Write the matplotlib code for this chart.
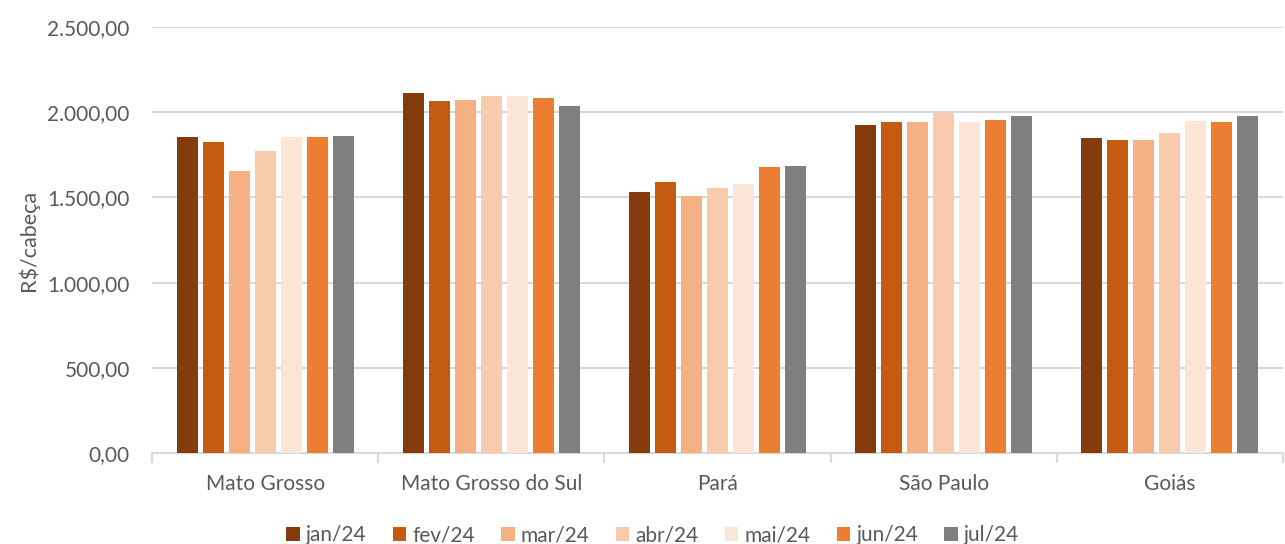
import matplotlib
matplotlib.use("Agg")
import matplotlib.pyplot as plt
import numpy as np
from matplotlib.ticker import FuncFormatter, FixedLocator

categories = ["Mato Grosso", "Mato Grosso do Sul", "Pará", "São Paulo", "Goiás"]
months = ["jan/24", "fev/24", "mar/24", "abr/24", "mai/24", "jun/24", "jul/24"]
jan24 = [1855, 2111, 1532, 1924, 1849]
fev24 = [1826, 2066, 1593, 1940, 1834]
mar24 = [1654, 2074, 1509, 1940, 1834]
abr24 = [1771, 2098, 1554, 1998, 1879]
mai24 = [1853, 2098, 1578, 1940, 1947]
jun24 = [1855, 2082, 1676, 1955, 1940]
jul24 = [1863, 2037, 1683, 1977, 1977]
series = [jan24, fev24, mar24, abr24, mai24, jun24, jul24]
colors = ["#843C0C", "#C55A11", "#F4B183", "#F8CBAD", "#FBE5D6", "#ED7D31", "#7F7F7F"]

plt.rcParams['font.family'] = ['Lato', 'DejaVu Sans']
txt = "#595959"

fig = plt.figure(figsize=(12.85, 5.44), dpi=100)
ax = fig.add_axes([152/1285, 1 - 453/544, (1283-152)/1285, (453-27)/544])

n = len(categories)
x = np.arange(n)
slot = 0.115
width = 0.093
for i, (vals, c, m) in enumerate(zip(series, colors, months)):
    ax.bar(x + (i - 3) * slot, vals, width=width, color=c, label=m, zorder=3)

ax.set_xlim(-0.5, n - 0.5)
ax.set_ylim(0, 2500)
ax.yaxis.set_major_locator(FixedLocator([0, 500, 1000, 1500, 2000, 2500]))

def fmt(v, pos):
    s = f"{v:,.2f}"
    return s.replace(",", "X").replace(".", ",").replace("X", ".")
ax.yaxis.set_major_formatter(FuncFormatter(fmt))

ax.grid(axis='y', color="#D9D9D9", linewidth=1.5, zorder=0)
for s in ["top", "right", "left"]:
    ax.spines[s].set_visible(False)
ax.spines["bottom"].set_color("#D9D9D9")
ax.spines["bottom"].set_linewidth(1.5)

ax.set_xticks(x)
ax.set_xticklabels(categories)
ax.set_xticks(np.arange(n + 1) - 0.5, minor=True)
ax.tick_params(axis='x', which='major', length=0, pad=15, labelsize=15, labelcolor=txt)
ax.tick_params(axis='x', which='minor', length=7, width=1.5, color="#D9D9D9")
ax.tick_params(axis='y', length=0, pad=16, labelsize=15, labelcolor=txt)

ax.set_ylabel("R$/cabeça", fontsize=15.5, color=txt, labelpad=6)

leg = fig.legend(loc='center', ncol=7, frameon=False,
                 fontsize=15, handlelength=0.65, handleheight=0.65, handletextpad=0.3,
                 columnspacing=1.25, labelcolor=txt)
leg.set_bbox_to_anchor((0.508, 1 - 535/544), transform=fig.transFigure)

fig.savefig("out.png", dpi=100)
